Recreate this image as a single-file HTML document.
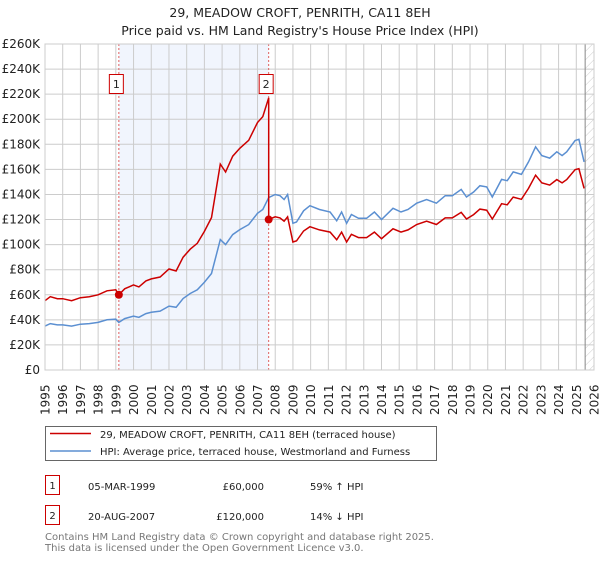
<!DOCTYPE html>
<html><head><meta charset="utf-8"><style>
body{margin:0;background:#fff;font-family:"DejaVu Sans",sans-serif;}
svg text{font-family:"DejaVu Sans",sans-serif;}
</style></head><body>
<svg id="c" width="600" height="560" xmlns="http://www.w3.org/2000/svg">
<text x="300" y="17" text-anchor="middle" font-size="12.5" fill="#222">29, MEADOW CROFT, PENRITH, CA11 8EH</text>
<text x="300" y="35" text-anchor="middle" font-size="12.5" fill="#222">Price paid vs. HM Land Registry's House Price Index (HPI)</text>
<g id="plot"></g>
<rect x="45.5" y="426.5" width="391" height="34" fill="#fff" stroke="#666"/>
<line x1="50" y1="433.5" x2="91" y2="433.5" stroke="#cc0000" stroke-width="1.5"/>
<text x="100" y="438" font-size="10" fill="#222">29, MEADOW CROFT, PENRITH, CA11 8EH (terraced house)</text>
<line x1="50" y1="451" x2="91" y2="451" stroke="#5b8fd1" stroke-width="1.5"/>
<text x="100" y="455" font-size="10" fill="#222">HPI: Average price, terraced house, Westmorland and Furness</text>
<g font-size="10" fill="#222">
<rect x="45.5" y="475.5" width="14" height="19" fill="#fff" stroke="#cc0000"/><text x="52.5" y="489" text-anchor="middle">1</text>
<text x="88" y="490">05-MAR-1999</text><text x="264" y="490" text-anchor="end">£60,000</text><text x="310" y="490">59% ↑ HPI</text></g>
<g font-size="10" fill="#222">
<rect x="45.5" y="505.5" width="14" height="19" fill="#fff" stroke="#cc0000"/><text x="52.5" y="519" text-anchor="middle">2</text>
<text x="88" y="520">20-AUG-2007</text><text x="264" y="520" text-anchor="end">£120,000</text><text x="310" y="520">14% ↓ HPI</text></g>
<text x="45" y="540" font-size="10" fill="#777">Contains HM Land Registry data © Crown copyright and database right 2025.</text>
<text x="45" y="551" font-size="10" fill="#777">This data is licensed under the Open Government Licence v3.0.</text>
</svg>
<script>
const hpiYears=[1995,1995.3,1995.7,1996,1996.5,1997,1997.5,1998,1998.5,1999.0,1999.17,1999.5,2000,2000.3,2000.7,2001,2001.5,2002,2002.4,2002.8,2003.2,2003.6,2004,2004.4,2004.9,2005.2,2005.6,2006,2006.5,2007,2007.3,2007.63,2008,2008.27,2008.5,2008.7,2009.0,2009.2,2009.6,2009.96,2010.5,2011.1,2011.47,2011.75,2012.03,2012.3,2012.7,2013.16,2013.6,2014.0,2014.65,2015.1,2015.5,2015.99,2016.55,2017.1,2017.6,2018.0,2018.5,2018.8,2019.2,2019.56,2019.94,2020.26,2020.78,2021.1,2021.44,2021.9,2022.3,2022.7,2023.05,2023.5,2023.9,2024.2,2024.46,2024.93,2025.15,2025.44];
const hpiValues=[35,37,36,36,35,36.5,37,38,40,40.5,38,41,43,42,45,46,47,51,50,57,61,64,70,77,104,100,108,112,116,125,128,137.5,140,139,136,140,117,118,127,131,128,126,119,126,117,124,121,121,126,120,129,126,128,133,136,133,139,139,144,138,142,147,146,138,152,151,158,156,166,178,171,169,174,171,174,183,184,166];
const saleYears=[1999.17,2007.63];
const salePrices=[60,120];
const yTicks=[0,20,40,60,80,100,120,140,160,180,200,220,240,260];
const xTicks=[1995,1996,1997,1998,1999,2000,2001,2002,2003,2004,2005,2006,2007,2008,2009,2010,2011,2012,2013,2014,2015,2016,2017,2018,2019,2020,2021,2022,2023,2024,2025,2026];
const L=45,R=594,T=44,B=370,x0=1995,x1=2026,yMax=260;
const X=y=>L+(y-x0)/(x1-x0)*(R-L), Y=v=>B-v/yMax*(B-T);
const NS="http://www.w3.org/2000/svg", g=document.getElementById('plot');
function mk(t,a,p){const e=document.createElementNS(NS,t);for(const k in a)e.setAttribute(k,a[k]);(p||g).appendChild(e);return e;}
function hpiAt(t){for(let i=0;i<hpiYears.length-1;i++){if(t<=hpiYears[i+1]){const f=(t-hpiYears[i])/(hpiYears[i+1]-hpiYears[i]);return hpiValues[i]+f*(hpiValues[i+1]-hpiValues[i]);}}return hpiValues[hpiValues.length-1];}
let sh=mk('rect',{x:X(saleYears[0]),y:T,width:X(saleYears[1])-X(saleYears[0]),height:B-T,fill:'#eef3fc',opacity:0.8});


const defs=mk('defs',{});const pat=mk('pattern',{id:'h',width:6,height:6,patternUnits:'userSpaceOnUse',patternTransform:'rotate(45)'},defs);
mk('line',{x1:0,y1:0,x2:0,y2:6,stroke:'#ccc','stroke-width':1},pat);
let hz=mk('rect',{x:X(2025.5),y:T,width:R-X(2025.5),height:B-T,fill:'url(#h)'});


xTicks.forEach(t=>{let l=mk('line',{x1:X(t),x2:X(t),y1:T,y2:B,stroke:'#ccc'});


const tx0=X(t)+4.5, ty0=B+45;
let tx=mk('text',{x:tx0,y:ty0,transform:'rotate(-90 '+tx0.toFixed(1)+' '+ty0+')','text-anchor':'start','font-size':12,fill:'#222'});tx.textContent=t;

});
yTicks.forEach(v=>{let l=mk('line',{x1:L,x2:R,y1:Y(v),y2:Y(v),stroke:'#ccc'});


let tx=mk('text',{x:L-5,y:Y(v)+4,'text-anchor':'end','font-size':12,fill:'#222'});tx.textContent=v===0?'£0':'£'+v+'K';

});
let nl=mk('line',{x1:X(2025.5),x2:X(2025.5),y1:T,y2:B,stroke:'#888'});


saleYears.forEach((s,i)=>{let l=mk('line',{x1:X(s),x2:X(s),y1:T,y2:B,stroke:'#e06060','stroke-dasharray':'2,2'});

});
let d=hpiYears.map((t,i)=>(i?'L':'M')+X(t).toFixed(1)+','+Y(hpiValues[i]).toFixed(1)).join('');
let hl=mk('path',{d:d,fill:'none',stroke:'#5b8fd1','stroke-width':1.5});


const r1=salePrices[0]/hpiAt(saleYears[0]),r2=salePrices[1]/hpiAt(saleYears[1]);
let pts=[];hpiYears.forEach((t,i)=>{if(t<saleYears[1])pts.push([t,hpiValues[i]*r1]);});
pts.push([saleYears[1],hpiAt(saleYears[1])*r1]);pts.push([saleYears[1],salePrices[1]]);
hpiYears.forEach((t,i)=>{if(t>saleYears[1])pts.push([t,hpiValues[i]*r2]);});
let pl=mk('path',{d:pts.map((p,i)=>(i?'L':'M')+X(p[0]).toFixed(1)+','+Y(p[1]).toFixed(1)).join(''),fill:'none',stroke:'#cc0000','stroke-width':1.5});


saleYears.forEach((s,i)=>{let c=mk('circle',{cx:X(s),cy:Y(salePrices[i]),r:4,fill:'#cc0000'});


let b=mk('rect',{x:X(s)-9.5,y:74.5,width:14,height:19,fill:'#fff',stroke:'#cc0000'});


let t=mk('text',{x:X(s)-2.5,y:88,'text-anchor':'middle','font-size':11,fill:'#222'});t.textContent=i+1;

});
let fr=mk('rect',{x:L,y:T,width:R-L,height:B-T,fill:'none',stroke:'#ccc'});


</script>
</body></html>
